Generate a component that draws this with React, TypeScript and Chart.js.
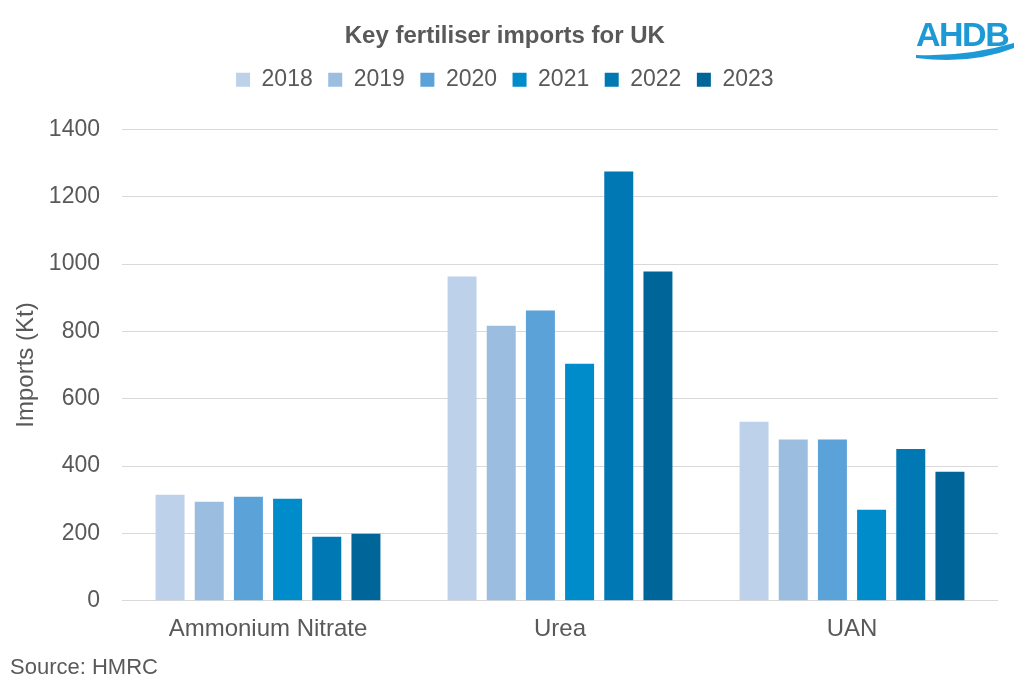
import React, { useEffect, useRef } from "react";
import { Chart, registerables } from "chart.js";

Chart.register(...registerables);

const categories = ["Ammonium Nitrate", "Urea", "UAN"];
const years = ["2018", "2019", "2020", "2021", "2022", "2023"];
const values2018 = [315, 963, 532];
const values2019 = [294, 817, 479];
const values2020 = [309, 862, 479];
const values2021 = [303, 704, 270];
const values2022 = [190, 1275, 451];
const values2023 = [199, 978, 383];
const yTicks = [0, 200, 400, 600, 800, 1000, 1200, 1400];

const colors = ["#BDD1EA", "#9BBDE0", "#5BA2D9", "#008BCB", "#0078B4", "#006699"];
const FONT = "'Liberation Sans', Arial, sans-serif";
const TEXT = "#595959";

const legendSpacer = {
  id: "legendSpacer",
  beforeInit(chart: any) {
    const legend = chart.legend;
    if (!legend) return;
    const origFit = legend.fit;
    legend.fit = function () {
      origFit.call(this);
      this.height += 28;
    };
  },
};

export default function App() {
  const ref = useRef<HTMLCanvasElement>(null);
  useEffect(() => {
    if (!ref.current) return;
    const series = [values2018, values2019, values2020, values2021, values2022, values2023];
    const chart = new Chart(ref.current, {
      type: "bar",
      data: {
        labels: categories,
        datasets: series.map((d, i) => ({
          label: years[i],
          data: d,
          backgroundColor: colors[i],
          borderWidth: 0,
          categoryPercentage: 0.805,
          barPercentage: 0.74,
        })),
      },
      plugins: [legendSpacer],
      options: {
        animation: false,
        responsive: false,
        maintainAspectRatio: false,
        layout: { padding: { left: 11.6, right: 32, top: 0, bottom: 49.4 } },
        plugins: {
          title: {
            display: true,
            text: "Key fertiliser imports for UK",
            color: TEXT,
            font: { family: FONT, size: 24, weight: "bold" },
            padding: { top: 22, bottom: 2 },
          },
          legend: {
            display: true,
            position: "top",
            labels: {
              color: TEXT,
              boxWidth: 14,
              boxHeight: 14,
              padding: 15.5,
              font: { family: FONT, size: 23 },
            },
          },
          tooltip: { enabled: false },
        },
        scales: {
          x: {
            grid: { display: false },
            border: { display: false },
            ticks: { color: TEXT, font: { family: FONT, size: 24 }, padding: 6 },
          },
          y: {
            min: 0,
            max: 1400,
            afterBuildTicks: (axis: any) => {
              axis.ticks = yTicks.map((v) => ({ value: v }));
            },
            afterFit: (axis: any) => {
              axis.width = 110.4;
            },
            grid: { color: "#D9D9D9", lineWidth: 1, drawTicks: false },
            border: { display: false },
            ticks: {
              color: TEXT,
              font: { family: FONT, size: 23 },
              padding: 22,
              callback: (v: any) => String(v),
            },
            title: {
              display: true,
              text: "Imports (Kt)",
              color: TEXT,
              font: { family: FONT, size: 24 },
              padding: { top: 0, bottom: 0 },
            },
          },
        },
      },
    });
    return () => chart.destroy();
  }, []);

  return (
    <div style={{ position: "fixed", left: 0, top: 0, width: 1030, height: 699, background: "#fff" }}>
      <canvas ref={ref} width={1030} height={699} style={{ position: "absolute", left: 0, top: 0 }} />
      <div
        style={{
          position: "absolute",
          left: 10,
          top: 654,
          fontFamily: FONT,
          fontSize: 22,
          color: TEXT,
        }}
      >
        Source: HMRC
      </div>
      <div style={{ position: "absolute", left: 916, top: 15, width: 104, height: 50 }}>
        <div
          style={{
            fontFamily: FONT,
            fontSize: 34,
            fontWeight: "bold",
            color: "#1D9AD6",
            letterSpacing: -1.5,
            lineHeight: "38px",
          }}
        >
          AHDB
        </div>
        <svg width="104" height="26" style={{ position: "absolute", left: 0, top: 26 }}>
          <path d="M0 14 Q 50 16 98 2 L 98 7 Q 55 24 0 17 Z" fill="#1D9AD6" />
        </svg>
      </div>
    </div>
  );
}
